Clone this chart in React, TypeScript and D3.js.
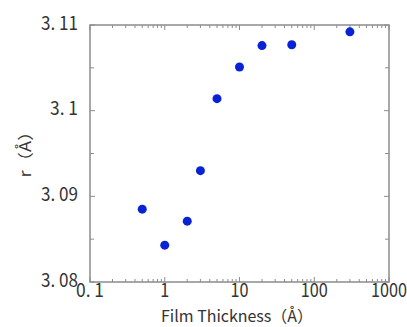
import React from "react";
import * as d3 from "d3";

const thickness = [0.5, 1, 2, 3, 5, 10, 20, 50, 300];
const rValues = [3.0885, 3.0843, 3.0871, 3.093, 3.1014, 3.1051, 3.1076, 3.1077, 3.1092];
const yTickValues = [3.08, 3.09, 3.1, 3.11];
const yTickLabels = ["3. 08", "3. 09", "3. 1", "3. 11"];
const yMinorValues = [3.085, 3.095, 3.105];
const xTickValues = [0.1, 1, 10, 100, 1000];
const xTickLabels = ["0. 1", "1", "10", "100", "1000"];
const xTitle = "Film Thickness（Å）";
const yTitle = "r（Å）";

const W = 407, H = 327;
const L = 90, R = 389, T = 25, B = 282;

function labelWidth(s: string) {
  let w = 0;
  for (const c of s) {
    if (c === ".") w += 5;
    else if (c === " ") w += 5;
    else w += 9;
  }
  return w;
}

export default function App() {
  const x = d3.scaleLog().domain([0.1, 1000]).range([L, R]);
  const y = d3.scaleLinear().domain([3.08, 3.11]).range([B, T]);
  const minorX: number[] = [];
  for (let e = -1; e < 3; e++) {
    for (let k = 2; k <= 9; k++) minorX.push(k * Math.pow(10, e));
  }
  const frame = "#8c8c8c";
  const textCol = "#333333";
  const font = "'Noto Sans CJK JP', 'Noto Sans', sans-serif";
  return (
    <svg width={W} height={H} style={{ position: "absolute", left: 0, top: 0, background: "#fff" }}>
      <rect x={0} y={0} width={W} height={H} fill="#fff" />
      {minorX.map((v, i) => (
        <g key={"mx" + i} stroke={frame} strokeWidth={1}>
          <line x1={x(v)} x2={x(v)} y1={B} y2={B - 3} />
          <line x1={x(v)} x2={x(v)} y1={T} y2={T + 3} />
        </g>
      ))}
      {xTickValues.map((v, i) => (
        <g key={"xt" + i} stroke={frame} strokeWidth={1}>
          <line x1={x(v)} x2={x(v)} y1={B} y2={B - 5} />
          <line x1={x(v)} x2={x(v)} y1={T} y2={T + 5} />
        </g>
      ))}
      {yMinorValues.map((v, i) => (
        <g key={"my" + i} stroke={frame} strokeWidth={1}>
          <line x1={L} x2={L + 4} y1={y(v)} y2={y(v)} />
          <line x1={R} x2={R - 4} y1={y(v)} y2={y(v)} />
        </g>
      ))}
      {yTickValues.map((v, i) => (
        <g key={"yt" + i} stroke={frame} strokeWidth={1}>
          <line x1={L} x2={L + 5} y1={y(v)} y2={y(v)} />
          <line x1={R} x2={R - 5} y1={y(v)} y2={y(v)} />
        </g>
      ))}
      <rect x={L} y={T} width={R - L} height={B - T} fill="none" stroke={frame} strokeWidth={1.5} />
      {thickness.map((t, i) => (
        <circle key={"p" + i} cx={x(t)} cy={y(rValues[i])} r={4.5} fill="#0a22d6" />
      ))}
      {yTickValues.map((v, i) => (
        <text
          key={"yl" + i}
          x={78}
          y={y(v) + 4.5}
          textAnchor="end"
          fontFamily={font}
          fontSize={19}
          fill={textCol}
          textLength={labelWidth(yTickLabels[i])}
          lengthAdjust="spacingAndGlyphs"
        >
          {yTickLabels[i]}
        </text>
      ))}
      {xTickValues.map((v, i) => (
        <text
          key={"xl" + i}
          x={x(v)}
          y={297}
          textAnchor="middle"
          fontFamily={font}
          fontSize={19}
          fill={textCol}
          textLength={labelWidth(xTickLabels[i])}
          lengthAdjust="spacingAndGlyphs"
        >
          {xTickLabels[i]}
        </text>
      ))}
      <text
        x={237}
        y={322}
        textAnchor="middle"
        fontFamily={font}
        fontSize={16}
        fill={textCol}
        textLength={152}
        lengthAdjust="spacingAndGlyphs"
      >
        {xTitle}
      </text>
      <text
        transform={`translate(31,150) rotate(-90)`}
        textAnchor="middle"
        fontFamily={font}
        fontSize={16}
        fill={textCol}
        textLength={55}
        lengthAdjust="spacingAndGlyphs"
      >
        {yTitle}
      </text>
    </svg>
  );
}
